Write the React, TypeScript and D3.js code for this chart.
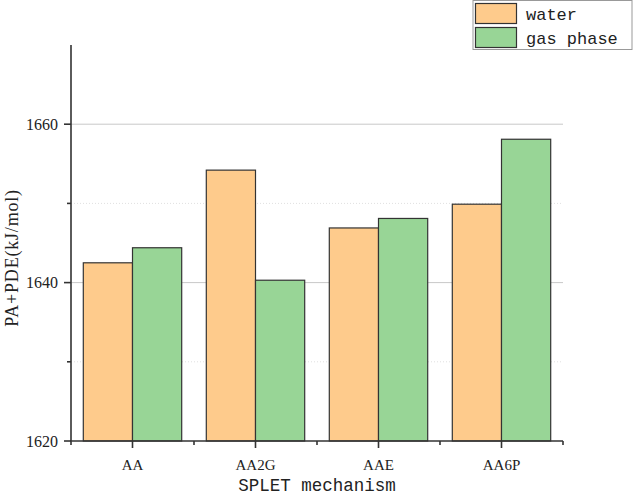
import React from "react";
import * as d3 from "d3";

const categories = ["AA", "AA2G", "AAE", "AA6P"];
const seriesNames = ["water", "gas phase"];
const waterValues = [1642.5, 1654.2, 1646.9, 1649.9];
const gasValues = [1644.4, 1640.3, 1648.1, 1658.1];
const yMajorTicks = [1620, 1640, 1660];
const yMinorTicks = [1630, 1650];
const colors = ["#fecb8c", "#98d596"];

export default function App() {
  const W = 633, H = 497;
  const left = 71, right = 563, top = 45, bottom = 441;
  const x = d3.scaleBand<string>().domain(categories).range([left, right]).paddingInner(0.2).paddingOuter(0.1);
  const x0 = d3.scaleBand<string>().domain(categories).range([left, right]);
  const xs = d3.scaleBand<string>().domain(seriesNames).range([0, x.bandwidth()]);
  const y = d3.scaleLinear().domain([1620, 1670]).range([bottom, top]);
  const series = [waterValues, gasValues];
  const axisColor = "#333";
  return (
    <svg width={W} height={H} style={{ position: "absolute", left: 0, top: 0, background: "#fff" }}>
      {yMajorTicks.filter((t) => t !== 1620).map((t) => (
        <line key={"g" + t} x1={left} x2={right} y1={y(t)} y2={y(t)} stroke="#c8c8c8" strokeWidth={1} />
      ))}
      {yMinorTicks.map((t) => (
        <line key={"m" + t} x1={left} x2={right} y1={y(t)} y2={y(t)} stroke="#e0e0e0" strokeWidth={1} strokeDasharray="1,2" />
      ))}
      {categories.map((c, i) =>
        series.map((vals, s) => (
          <rect
            key={c + s}
            x={(x(c) as number) + (xs(seriesNames[s]) as number)}
            y={y(vals[i])}
            width={xs.bandwidth()}
            height={bottom - y(vals[i])}
            fill={colors[s]}
            stroke={axisColor}
            strokeWidth={1.2}
          />
        ))
      )}
      {/* y axis */}
      <line x1={left} x2={left} y1={top} y2={bottom} stroke={axisColor} strokeWidth={1.6} />
      {yMajorTicks.map((t) => (
        <g key={"yt" + t}>
          <line x1={left - 7} x2={left} y1={y(t)} y2={y(t)} stroke={axisColor} strokeWidth={1.6} />
          <text x={left - 13} y={y(t)} dy="0.35em" textAnchor="end" fontFamily="Liberation Serif" fontSize={16} fill="#222">
            {t}
          </text>
        </g>
      ))}
      {yMinorTicks.map((t) => (
        <line key={"ymt" + t} x1={left - 4} x2={left} y1={y(t)} y2={y(t)} stroke={axisColor} strokeWidth={1.6} />
      ))}
      {/* x axis */}
      <line x1={left - 1} x2={right} y1={bottom} y2={bottom} stroke={axisColor} strokeWidth={1.6} />
      {categories.map((c) => {
        const cx = (x0(c) as number) + x0.bandwidth() / 2;
        return (
          <g key={"xt" + c}>
            <line x1={cx} x2={cx} y1={bottom} y2={bottom + 7} stroke={axisColor} strokeWidth={1.6} />
            <text
              x={cx}
              y={bottom + 29}
              textAnchor="middle"
              fontFamily="Liberation Serif"
              fontSize={15}
              fill="#222"
            >
              {c}
            </text>
          </g>
        );
      })}
      {categories.map((c) => {
        const bx = x0(c) as number;
        return <line key={"xm" + c} x1={bx} x2={bx} y1={bottom} y2={bottom + 4} stroke={axisColor} strokeWidth={1.6} />;
      })}
      <line x1={right} x2={right} y1={bottom} y2={bottom + 4} stroke={axisColor} strokeWidth={1.6} />
      {/* axis titles */}
      <text x={317} y={491} textAnchor="middle" fontFamily="Liberation Mono" fontSize={17.5} fill="#222">
        SPLET mechanism
      </text>
      <text transform={`translate(18, 258) rotate(-90)`} textAnchor="middle" fontFamily="Liberation Serif" fontSize={18} letterSpacing={0.8} fill="#222">
        PA+PDE(kJ/mol)
      </text>
      {/* legend */}
      <rect x={473} y={0.5} width={159} height={49} fill="#fff" stroke="#999" strokeWidth={1} />
      {seriesNames.map((n, i) => (
        <g key={"lg" + n}>
          <rect x={475.5} y={3.5 + i * 24} width={41} height={20} fill={colors[i]} stroke={axisColor} strokeWidth={1.2} />
          <text x={526} y={20 + i * 23.5} fontFamily="Liberation Mono" fontSize={17} fill="#222">
            {n}
          </text>
        </g>
      ))}
    </svg>
  );
}
